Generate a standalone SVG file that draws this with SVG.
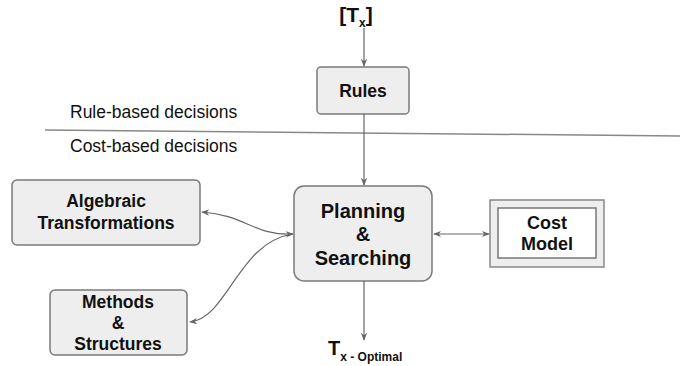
<svg xmlns="http://www.w3.org/2000/svg" width="680" height="366" viewBox="0 0 680 366">
<defs>
<marker id="ah" viewBox="0 0 10 10" refX="9" refY="5" markerWidth="8" markerHeight="8" orient="auto-start-reverse" markerUnits="userSpaceOnUse">
<path d="M0,1 L10,5 L0,9 L3,5 Z" fill="#666"/>
</marker>
<style>
.box{fill:#eeeeee;stroke:#7a7a7a;stroke-width:1.5}
.t{font-family:"Liberation Sans",Arial,sans-serif;font-weight:bold;fill:#111;text-anchor:middle}
.r{font-family:"Liberation Sans",Arial,sans-serif;fill:#111;font-size:17.5px}
.c{fill:none;stroke:#666;stroke-width:1.2}
</style>
</defs>
<rect width="680" height="366" fill="#fff"/>
<g id="tx">
<text x="356" y="22" class="t" font-size="21"><tspan>[T</tspan><tspan font-size="12" dy="5">x</tspan><tspan dy="-5">]</tspan></text>
</g>
<g id="divider">
<line x1="45" y1="130" x2="680" y2="136" stroke="#888" stroke-width="1.5"/>
<text x="70" y="118" class="r">Rule-based decisions</text>
<text x="70" y="152" class="r">Cost-based decisions</text>
</g>
<g id="rules">
<rect x="317" y="67" width="92" height="47" rx="4" class="box"/>
<text x="363" y="97" class="t" font-size="17.5">Rules</text>
</g>
<g id="planning">
<rect x="294" y="186" width="138" height="95" rx="10" class="box"/>
<text x="363" y="218" class="t" font-size="20">Planning</text>
<text x="363" y="241" class="t" font-size="20">&amp;</text>
<text x="363" y="265" class="t" font-size="20">Searching</text>
</g>
<g id="cost">
<rect x="490" y="200" width="114" height="67" fill="#eeeeee" stroke="#888" stroke-width="1.5"/>
<rect x="498" y="208" width="98" height="50" fill="#fff" stroke="#777" stroke-width="1.5"/>
<text x="547" y="229" class="t" font-size="18">Cost</text>
<text x="547" y="250" class="t" font-size="18">Model</text>
</g>
<g id="algebraic">
<rect x="12" y="180" width="188" height="65" rx="5" class="box"/>
<text x="106" y="207" class="t" font-size="17.5">Algebraic</text>
<text x="106" y="229" class="t" font-size="17.5">Transformations</text>
</g>
<g id="methods">
<rect x="50" y="290" width="137" height="65" rx="5" class="box"/>
<text x="118" y="308" class="t" font-size="17.5">Methods</text>
<text x="118" y="329" class="t" font-size="17.5">&amp;</text>
<text x="118" y="350" class="t" font-size="17.5">Structures</text>
</g>
<g id="txopt">
<text x="328" y="355" font-family="'Liberation Sans',Arial,sans-serif" font-weight="bold" fill="#111" font-size="20">T<tspan font-size="12" dy="6" dx="0">x - Optimal</tspan></text>
</g>
<g id="connectors">
<line x1="364" y1="28" x2="364" y2="66" class="c" marker-end="url(#ah)"/>
<line x1="364" y1="114" x2="364" y2="185" class="c" marker-end="url(#ah)"/>
<line x1="364" y1="281" x2="364" y2="340" class="c" marker-end="url(#ah)"/>
<line x1="434" y1="234" x2="489" y2="234" class="c" marker-start="url(#ah)" marker-end="url(#ah)"/>
<path d="M202,212 C245,215 255,236 293,234" class="c" marker-start="url(#ah)" marker-end="url(#ah)"/>
<path d="M190,322 C228,318 238,242 293,234" class="c" marker-start="url(#ah)"/>
</g>
</svg>
